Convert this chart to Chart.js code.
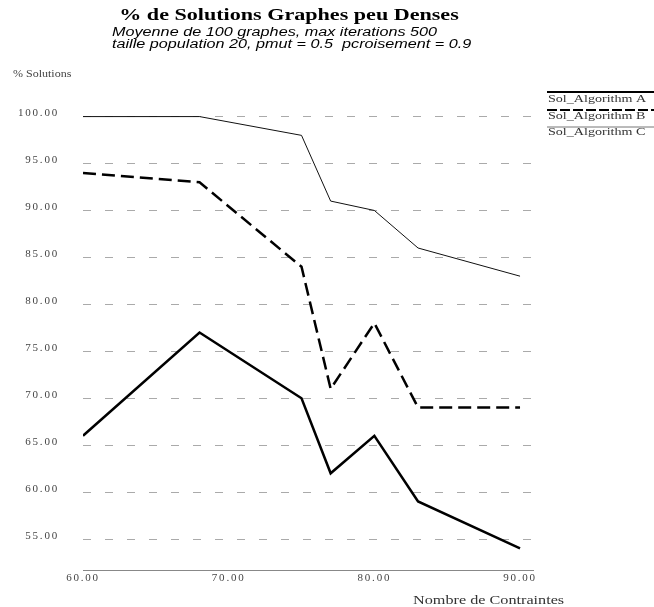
<!DOCTYPE html>
<html>
<head>
<meta charset="utf-8">
<title>% de Solutions Graphes peu Denses</title>
<script src="https://cdn.jsdelivr.net/npm/chart.js@4.4.1/dist/chart.umd.min.js"></script>
<style>
  html, body { margin: 0; padding: 0; background: #fff; }
  #wrap { position: relative; width: 654px; height: 607px; }
</style>
</head>
<body>
<div id="wrap"><canvas id="chart"></canvas></div>
<script>
// Number of constraints (x) and percentage of solved graphs per algorithm
const contraintes = [60, 68, 75, 77, 80, 83, 90];
const solAlgoA = [100, 100, 98, 91, 90, 86, 83];
const solAlgoB = [94, 93, 84, 71, 78, 69, 69];
const solAlgoC = [66, 77, 70, 62, 66, 59, 54];

// Axis tick values
const yTickValues = [55, 60, 65, 70, 75, 80, 85, 90, 95, 100];
const xTickValues = [60, 70, 80, 90];

const seriesNames = ['Sol_Algorithm A', 'Sol_Algorithm B', 'Sol_Algorithm C'];

const toPoints = vals => contraintes.map((c, i) => ({ x: c, y: vals[i] }));

const SERIF = "'Liberation Serif', 'DejaVu Serif', serif";
const SANS = "'Liberation Sans', Arial, sans-serif";

Chart.defaults.font.family = SERIF;
Chart.defaults.color = '#333';

// text drawn a little wider than its natural shape
function wideText(ctx, text, x, y, font, sx, align, color) {
  ctx.save();
  ctx.font = font;
  ctx.fillStyle = color;
  ctx.textAlign = align;
  ctx.textBaseline = 'middle';
  ctx.translate(x, y);
  ctx.scale(sx, 1);
  ctx.fillText(text, 0, 0);
  ctx.restore();
}

// Titles, axis captions and legend drawn around the plot
const decorPlugin = {
  id: 'decor',
  beforeDraw(chart) {
    // spaced-out tick labels
    chart.ctx.letterSpacing = '1.8px';
  },
  beforeDatasetsDraw(chart) {
    chart.ctx.letterSpacing = '0px';
  },
  afterDraw(chart) {
    const ctx = chart.ctx;
    ctx.save();
    ctx.letterSpacing = '0px';

    wideText(ctx, '% de Solutions Graphes peu Denses', 289, 16,
      'bold 17px ' + SERIF, 1.3, 'center', '#000');
    wideText(ctx, 'Moyenne de 100 graphes, max iterations 500', 112, 33,
      'italic 12px ' + SANS, 1.35, 'left', '#000');
    wideText(ctx, 'taille population 20, pmut = 0.5  pcroisement = 0.9', 112, 45,
      'italic 12px ' + SANS, 1.35, 'left', '#000');

    wideText(ctx, '% Solutions', 13, 74, '10px ' + SERIF, 1.2, 'left', '#444');
    wideText(ctx, 'Nombre de Contraintes', 413, 601, '12px ' + SERIF, 1.35, 'left', '#333');

    // legend: sample line sits just above each label
    const rows = [
      { ty: 99, ly: 92, w: 2, dash: [], color: '#000' },
      { ty: 116, ly: 110, w: 2, dash: [10, 3], color: '#000' },
      { ty: 132, ly: 127, w: 1, dash: [], color: '#777' }
    ];
    rows.forEach((r, i) => {
      ctx.beginPath();
      ctx.setLineDash(r.dash);
      ctx.lineWidth = r.w;
      ctx.strokeStyle = r.color;
      ctx.moveTo(547, r.ly);
      ctx.lineTo(654, r.ly);
      ctx.stroke();
      ctx.setLineDash([]);
      wideText(ctx, seriesNames[i], 548, r.ty, '11px ' + SERIF, 1.28, 'left', '#333');
    });
    ctx.restore();
  }
};

new Chart(document.getElementById('chart'), {
  type: 'line',
  data: {
    datasets: [
      {
        label: seriesNames[0],
        data: toPoints(solAlgoA),
        borderColor: '#111',
        borderWidth: 1,
        pointRadius: 0,
        tension: 0
      },
      {
        label: seriesNames[1],
        data: toPoints(solAlgoB),
        borderColor: '#000',
        borderWidth: 2.5,
        borderDash: [13, 6],
        pointRadius: 0,
        tension: 0
      },
      {
        label: seriesNames[2],
        data: toPoints(solAlgoC),
        borderColor: '#000',
        borderWidth: 2.5,
        pointRadius: 0,
        tension: 0
      }
    ]
  },
  options: {
    responsive: true,
    maintainAspectRatio: false,
    animation: false,
    layout: { padding: { top: 95, right: 121, left: 0, bottom: 0 } },
    plugins: {
      legend: { display: false },
      title: { display: false },
      tooltip: { enabled: false }
    },
    scales: {
      x: {
        type: 'linear',
        position: 'bottom',
        min: 60,
        max: 90.89,
        afterBuildTicks: s => { s.ticks = xTickValues.map(v => ({ value: v })); },
        afterFit: s => { s.height = 37; },
        grid: { display: false, drawTicks: false },
        border: { display: true, color: '#888', width: 1 },
        ticks: {
          autoSkip: false,
          maxRotation: 0,
          padding: 2,
          color: '#444',
          font: { size: 11 },
          callback: v => Number(v).toFixed(2)
        }
      },
      y: {
        type: 'linear',
        position: 'left',
        min: 51.7,
        max: 102.3,
        afterBuildTicks: s => { s.ticks = yTickValues.map(v => ({ value: v })); },
        afterFit: s => { s.width = 83; },
        grid: { color: '#aaa', lineWidth: 1, drawTicks: false },
        border: { display: false, dash: [8, 14] },
        ticks: {
          padding: 24,
          labelOffset: -3,
          color: '#444',
          font: { size: 11 },
          callback: v => Number(v).toFixed(2)
        }
      }
    }
  },
  plugins: [decorPlugin]
});
</script>
</body>
</html>
